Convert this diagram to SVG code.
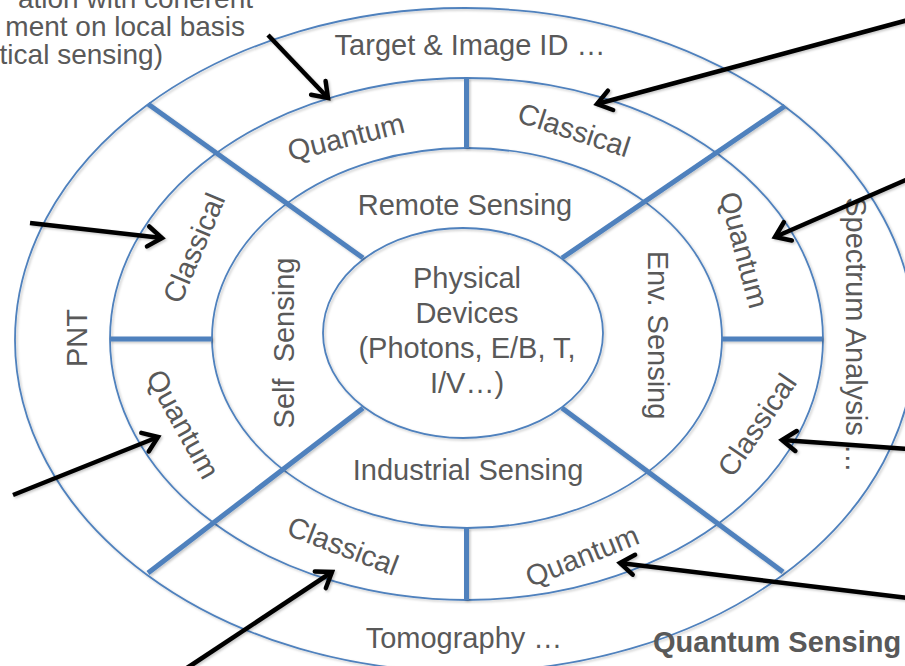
<svg xmlns="http://www.w3.org/2000/svg" width="905" height="666" viewBox="0 0 905 666">
  <defs>
    <filter id="soft" x="-5%" y="-5%" width="110%" height="110%">
      <feDropShadow dx="1.5" dy="1.5" stdDeviation="1.2" flood-color="#000" flood-opacity="0.22"/>
    </filter>
    <marker id="chev" viewBox="-20 -13 24 26" refX="0" refY="0" markerWidth="24" markerHeight="26" markerUnits="userSpaceOnUse" orient="auto">
      <path d="M-14,-10 L0,0 L-14,10" fill="none" stroke="#000" stroke-width="4.5" stroke-linejoin="miter" stroke-linecap="round"/>
    </marker>
  </defs>
  <style>
    .ring { fill: none; stroke: #4F81BD; stroke-width: 1.8; }
    .div { stroke: #4F81BD; stroke-width: 5; stroke-linecap: butt; }
    .lbl { font-family: "Liberation Sans", Arial, sans-serif; font-size: 29px; fill: #595959; text-anchor: middle; }
    .note { font-family: "Liberation Sans", Arial, sans-serif; font-size: 28px; fill: #595959; text-anchor: end; }
    .title { font-family: "Liberation Sans", Arial, sans-serif; font-size: 29px; font-weight: bold; fill: #595959; }
    .arrow { stroke: #000; stroke-width: 4.5; fill: none; marker-end: url(#chev); }
  </style>

  <rect width="905" height="666" fill="#fff"/>

  <!-- concentric rings -->
  <g id="rings" filter="url(#soft)">
    <ellipse class="ring" cx="465" cy="340" rx="450" ry="332"/>
    <ellipse class="ring" cx="466.5" cy="339" rx="356.5" ry="261"/>
    <ellipse class="ring" cx="467" cy="338" rx="255" ry="190"/>
    <ellipse class="ring" cx="463" cy="333" rx="140" ry="105"/>
  </g>

  <!-- sector dividers -->
  <g id="dividers" filter="url(#soft)">
    <line class="div" x1="148" y1="104" x2="363" y2="258"/>
    <line class="div" x1="785" y1="106" x2="562" y2="258"/>
    <line class="div" x1="363" y1="408" x2="148" y2="573"/>
    <line class="div" x1="562" y1="408" x2="783" y2="572"/>
    <line class="div" x1="466.5" y1="78" x2="466.5" y2="148"/>
    <line class="div" x1="466.5" y1="528" x2="466.5" y2="600"/>
    <line class="div" x1="110" y1="339" x2="212" y2="339"/>
    <line class="div" x1="722" y1="339" x2="822" y2="339"/>
  </g>

  <!-- core -->
  <g id="physical-devices">
    <text class="lbl" x="467" y="288">Physical</text>
    <text class="lbl" x="467" y="323">Devices</text>
    <text class="lbl" x="467" y="358">(Photons, E/B, T,</text>
    <text class="lbl" x="467" y="393">I/V…)</text>
  </g>

  <!-- sensing domains -->
  <g id="remote-sensing"><text class="lbl" x="465" y="215">Remote Sensing</text></g>
  <g id="industrial-sensing"><text class="lbl" x="468" y="480">Industrial Sensing</text></g>
  <g id="self-sensing"><text class="lbl" xml:space="preserve" transform="translate(294,343) rotate(-90)">Self  Sensing</text></g>
  <g id="env-sensing"><text class="lbl" transform="translate(648,335) rotate(90)">Env. Sensing</text></g>

  <!-- technology sectors -->
  <g id="quantum-remote"><text class="lbl" transform="translate(346,137) rotate(-14) translate(0,10)">Quantum</text></g>
  <g id="classical-remote"><text class="lbl" transform="translate(574,130) rotate(18) translate(0,10)">Classical</text></g>
  <g id="quantum-env"><text class="lbl" transform="translate(744,250) rotate(75) translate(0,10)">Quantum</text></g>
  <g id="classical-env"><text class="lbl" transform="translate(757,425) rotate(-56) translate(0,10)">Classical</text></g>
  <g id="quantum-self"><text class="lbl" transform="translate(183,424) rotate(61) translate(0,10)">Quantum</text></g>
  <g id="classical-self"><text class="lbl" transform="translate(194,248) rotate(-67) translate(0,10)">Classical</text></g>
  <g id="classical-industrial"><text class="lbl" transform="translate(343,546) rotate(21) translate(0,10)">Classical</text></g>
  <g id="quantum-industrial"><text class="lbl" transform="translate(582,556) rotate(-22) translate(0,10)">Quantum</text></g>

  <!-- applications -->
  <g id="target-image-id"><text class="lbl" x="470" y="55">Target &amp; Image ID …</text></g>
  <g id="tomography"><text class="lbl" x="464" y="648">Tomography …</text></g>
  <g id="pnt"><text class="lbl" transform="translate(87,338) rotate(-90)">PNT</text></g>
  <g id="spectrum-analysis"><text class="lbl" transform="translate(846,335) rotate(90)">Spectrum Analysis …</text></g>

  <!-- annotation -->
  <g id="note">
    <text class="note" x="253" y="8">ation with coherent</text>
    <text class="note" x="245" y="36">ment on local basis</text>
    <text class="note" x="163" y="64">tical sensing)</text>
  </g>
  <g id="title"><text class="title" x="653" y="652">Quantum Sensing</text></g>

  <!-- pointers -->
  <g id="connectors" filter="url(#soft)">
    <line class="arrow" x1="268" y1="35" x2="328" y2="98"/>
    <line class="arrow" x1="908" y1="20" x2="597" y2="104"/>
    <line class="arrow" x1="908" y1="179" x2="775" y2="237"/>
    <line class="arrow" x1="30" y1="223" x2="162" y2="238"/>
    <line class="arrow" x1="13" y1="495" x2="158" y2="437"/>
    <line class="arrow" x1="908" y1="449" x2="782" y2="440"/>
    <line class="arrow" x1="187" y1="668" x2="332" y2="572"/>
    <line class="arrow" x1="908" y1="598" x2="620" y2="563"/>
  </g>
</svg>
